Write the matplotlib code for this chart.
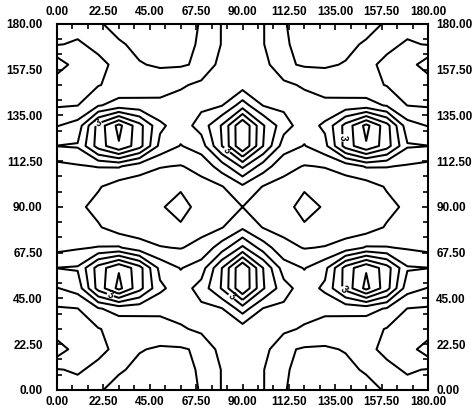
import numpy as np
import matplotlib
matplotlib.use('Agg')
import matplotlib.pyplot as plt
from matplotlib.ticker import MultipleLocator, FormatStrFormatter
from matplotlib.transforms import ScaledTranslation

# grid of the two angles (degrees), 10 degree steps
phi = [0, 10, 20, 30, 40, 50, 60, 70, 80, 90, 100, 110, 120, 130, 140, 150, 160, 170, 180]
psi = [0, 10, 20, 30, 40, 50, 60, 70, 80, 90, 100, 110, 120, 130, 140, 150, 160, 170, 180]

# values, one row per psi (bottom to top)
energy = [
    [6.6, 6.7, 6.9, 7.3, 7.5, 7.5, 7.3, 6.95, 5.95, 5.6, 5.95, 6.95, 7.3, 7.5, 7.5, 7.3, 6.9, 6.7, 6.6],
    [6.95, 7.1, 6.8, 6.9, 7.2, 7.3, 7.25, 6.9, 5.95, 5.6, 5.95, 6.9, 7.25, 7.3, 7.2, 6.9, 6.8, 7.1, 6.95],
    [8.6, 7.5, 7.2, 6.8, 6.95, 7.1, 7.1, 6.85, 5.6, 5.4, 5.6, 6.85, 7.1, 7.1, 6.95, 6.8, 7.2, 7.5, 8.6],
    [7.3, 7.3, 7.05, 6.7, 6.6, 6.5, 6.15, 5.75, 5.4, 5.5, 5.4, 5.75, 6.15, 6.5, 6.6, 6.7, 7.05, 7.3, 7.3],
    [7.1, 7.02, 6.1, 5.6, 5.65, 5.7, 5.5, 5.2, 5.05, 3.5, 5.05, 5.2, 5.5, 5.7, 5.65, 5.6, 6.1, 7.02, 7.1],
    [6.05, 5.6, 2.6, 0.7, 2.65, 4.8, 5.5, 4.6, 2.9, 0.0, 2.9, 4.6, 5.5, 4.8, 2.65, 0.7, 2.6, 5.6, 6.05],
    [4.98, 4.9, 2.55, 1.1, 2.6, 5.3, 6.05, 5.5, 3.0, 0.0, 3.0, 5.5, 6.05, 5.3, 2.6, 1.1, 2.55, 4.9, 4.98],
    [6.3, 6.1, 5.95, 5.9, 6.6, 6.95, 7.05, 6.7, 5.5, 3.8, 5.5, 6.7, 7.05, 6.95, 6.6, 5.9, 5.95, 6.1, 6.3],
    [6.5, 6.6, 6.9, 7.5, 7.5, 7.6, 7.75, 7.3, 7.05, 6.2, 7.05, 7.3, 7.75, 7.6, 7.5, 7.5, 6.9, 6.6, 6.5],
    [6.5, 6.8, 7.3, 7.6, 7.7, 7.8, 8.7, 7.3, 7.3, 7.0, 7.3, 7.3, 8.7, 7.8, 7.7, 7.6, 7.3, 6.8, 6.5],
    [6.5, 6.6, 6.9, 7.5, 7.5, 7.6, 7.75, 7.3, 7.05, 6.2, 7.05, 7.3, 7.75, 7.6, 7.5, 7.5, 6.9, 6.6, 6.5],
    [6.3, 6.1, 5.95, 5.9, 6.6, 6.95, 7.05, 6.7, 5.5, 3.8, 5.5, 6.7, 7.05, 6.95, 6.6, 5.9, 5.95, 6.1, 6.3],
    [4.98, 4.9, 2.55, 1.1, 2.6, 5.3, 6.05, 5.5, 3.0, 0.0, 3.0, 5.5, 6.05, 5.3, 2.6, 1.1, 2.55, 4.9, 4.98],
    [6.05, 5.6, 2.6, 0.7, 2.65, 4.8, 5.5, 4.6, 2.9, 0.0, 2.9, 4.6, 5.5, 4.8, 2.65, 0.7, 2.6, 5.6, 6.05],
    [7.1, 7.02, 6.1, 5.6, 5.65, 5.7, 5.5, 5.2, 5.05, 3.5, 5.05, 5.2, 5.5, 5.7, 5.65, 5.6, 6.1, 7.02, 7.1],
    [7.3, 7.3, 7.05, 6.7, 6.6, 6.5, 6.15, 5.75, 5.4, 5.5, 5.4, 5.75, 6.15, 6.5, 6.6, 6.7, 7.05, 7.3, 7.3],
    [8.6, 7.5, 7.2, 6.8, 6.95, 7.1, 7.1, 6.85, 5.6, 5.4, 5.6, 6.85, 7.1, 7.1, 6.95, 6.8, 7.2, 7.5, 8.6],
    [6.95, 7.1, 6.8, 6.9, 7.2, 7.3, 7.25, 6.9, 5.95, 5.6, 5.95, 6.9, 7.25, 7.3, 7.2, 6.9, 6.8, 7.1, 6.95],
    [6.6, 6.7, 6.9, 7.3, 7.5, 7.5, 7.3, 6.95, 5.95, 5.6, 5.95, 6.95, 7.3, 7.5, 7.5, 7.3, 6.9, 6.7, 6.6],
]

levels = [1, 2, 4, 5, 6, 7, 8]
label_levels = [3]
label_spots = [(20, 131), (81, 116), (138, 124), (26, 47), (80, 40), (138, 48)]

tick_values = [0, 22.5, 45, 67.5, 90, 112.5, 135, 157.5, 180]

plt.rcParams['font.family'] = ['Liberation Sans', 'DejaVu Sans']

fig = plt.figure(figsize=(4.74, 4.09), dpi=100)
ax = fig.add_axes([0.1203, 0.0465, 0.7827, 0.8949])

z = np.array(energy)
ax.contour(phi, psi, z, levels=levels, colors='black', linewidths=1.45)
cs3 = ax.contour(phi, psi, z, levels=label_levels, colors='black', linewidths=1.45)
for t in ax.clabel(cs3, manual=label_spots, fmt='%d', fontsize=7, inline=True, inline_spacing=1):
    t.set_fontweight('bold')

ax.set_xlim(0, 180)
ax.set_ylim(0, 180)
ax.set_xticks(tick_values)
ax.set_yticks(tick_values)
ax.xaxis.set_minor_locator(MultipleLocator(7.5))
ax.yaxis.set_minor_locator(MultipleLocator(7.5))
ax.xaxis.set_major_formatter(FormatStrFormatter('%.2f'))
ax.yaxis.set_major_formatter(FormatStrFormatter('%.2f'))

ax.tick_params(which='both', direction='in', top=True, right=True, width=1.2)
ax.tick_params(which='major', length=4)
ax.tick_params(which='minor', length=3.5)
ax.tick_params(axis='x', labeltop=True, labelbottom=True, pad=4)
ax.tick_params(axis='y', labelleft=True, labelright=True)
ax.tick_params(axis='y', which='major', pad=6)
for lab in ax.get_xticklabels() + ax.get_yticklabels():
    lab.set_fontweight('bold')
    lab.set_fontsize(8.5)
for side in ax.spines.values():
    side.set_linewidth(1.5)

# left labels sit a little further from the frame than the right ones
shift = ScaledTranslation(-0.06, 0, fig.dpi_scale_trans)
for tk in ax.yaxis.get_major_ticks():
    tk.label1.set_transform(tk.label1.get_transform() + shift)

fig.savefig('out.png', dpi=100)
